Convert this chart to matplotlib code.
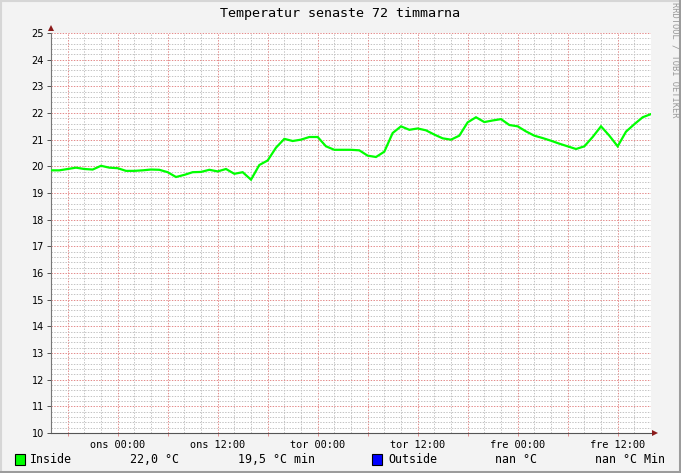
import matplotlib
matplotlib.use('Agg')
import matplotlib.pyplot as plt
from matplotlib.lines import Line2D
from matplotlib.patches import Rectangle

W, H = 681, 473

# ---- data -------------------------------------------------------------
title = 'Temperatur senaste 72 timmarna'
# hours since tis 16:00
hours = list(range(73))
inside = [19.85, 19.85, 19.90, 19.95, 19.90, 19.88, 20.02, 19.95, 19.93, 19.83,
          19.83, 19.85, 19.88, 19.87, 19.78, 19.60, 19.68, 19.78, 19.79, 19.87,
          19.81, 19.90, 19.72, 19.78, 19.50, 20.05, 20.22, 20.70, 21.03, 20.95,
          21.00, 21.10, 21.10, 20.75, 20.62, 20.62, 20.62, 20.60, 20.40, 20.35,
          20.55, 21.25, 21.50, 21.37, 21.42, 21.35, 21.19, 21.05, 21.00, 21.15,
          21.65, 21.84, 21.66, 21.72, 21.77, 21.55, 21.50, 21.31, 21.15, 21.06,
          20.96, 20.85, 20.75, 20.65, 20.75, 21.10, 21.50, 21.15, 20.75, 21.30,
          21.58, 21.84, 21.96]
label_hours = [8, 20, 32, 44, 56, 68]
label_text = ['ons 00:00', 'ons 12:00', 'tor 00:00', 'tor 12:00', 'fre 00:00', 'fre 12:00']
major_x = [2, 8, 14, 20, 26, 32, 38, 44, 50, 56, 62, 68]
minor_x = list(range(0, 73, 2))
y_major = list(range(10, 26))
y_minor = [10 + i * 0.2 for i in range(76)]
series_names = ['Inside', 'Outside']
series_colors = ['#00FF00', '#0000FF']

# ---- figure -----------------------------------------------------------
MONO = 'DejaVu Sans Mono'
fig = plt.figure(figsize=(W / 100, H / 100), dpi=100, facecolor='#F3F3F3')


def fx(x):
    return x / W


def fy(y):
    return 1 - y / H


ax = fig.add_axes([fx(51), 40 / H, 600 / W, 400 / H])
ax.set_facecolor('white')
ax.set_xlim(0, 72)
ax.set_ylim(10, 25)

ax.set_xticks(major_x)
ax.set_xticklabels([label_text[label_hours.index(h)] if h in label_hours else '' for h in major_x])
ax.set_xticks(minor_x, minor=True)
ax.set_yticks(y_major)
ax.set_yticks(y_minor, minor=True)

dot = (0, (1.4, 1.4))
ax.grid(which='minor', color='#C4C4C4', linestyle=dot, linewidth=0.72)
ax.grid(which='major', color='#E48C8C', linestyle=dot, linewidth=0.72)
ax.set_axisbelow(True)

ax.tick_params(axis='y', which='major', length=3, width=0.72, color='#555555',
               labelsize=7, pad=2, labelcolor='black')
ax.tick_params(axis='x', which='major', length=2, width=0.72, color='#E09090',
               labelsize=7.4, pad=3, labelcolor='black')
ax.tick_params(which='minor', length=0)
for lab in ax.get_xticklabels():
    lab.set_fontfamily(MONO)
for lab in ax.get_yticklabels():
    lab.set_fontfamily('DejaVu Sans')

for s in ['top', 'right']:
    ax.spines[s].set_visible(False)
ax.spines['left'].set_color('#777777')
ax.spines['bottom'].set_color('#555555')
ax.spines['left'].set_linewidth(0.8)
ax.spines['bottom'].set_linewidth(0.8)

ax.plot(hours, inside, color=series_colors[0], linewidth=1.6, solid_joinstyle='miter', zorder=3)

# axis arrows
ax.plot([0], [1.012], transform=ax.transAxes, marker='^', color='#8B1A1A',
        markersize=4.5, clip_on=False, markeredgewidth=0)
ax.plot([1.007], [0], transform=ax.transAxes, marker='>', color='#8B1A1A',
        markersize=4.5, clip_on=False, markeredgewidth=0)

# title and credit
fig.text(0.5, fy(13), title, ha='center', va='center', fontsize=9.6,
         family=MONO, color='black')
fig.text(fx(675), fy(60), 'RRDTOOL / TOBI OETIKER', rotation=270, ha='center',
         va='center', fontsize=6.3, family=MONO, color='#999999')

# legend
ly = 459
fig.patches.append(Rectangle((fx(15), fy(465)), 10 / W, 11 / H, transform=fig.transFigure,
                             facecolor=series_colors[0], edgecolor='black', linewidth=0.8))
fig.patches.append(Rectangle((fx(372), fy(465)), 10 / W, 11 / H, transform=fig.transFigure,
                             facecolor=series_colors[1], edgecolor='black', linewidth=0.8))
lfs = 8.4
last_txt = f"{inside[-1]:.1f}".replace('.', ',') + ' °C'
min_txt = f"{min(inside):.1f}".replace('.', ',') + ' °C min'
fig.text(fx(30), fy(ly), series_names[0], ha='left', va='center', fontsize=lfs, family=MONO)
fig.text(fx(130), fy(ly), last_txt, ha='left', va='center', fontsize=lfs, family=MONO)
fig.text(fx(238), fy(ly), min_txt, ha='left', va='center', fontsize=lfs, family=MONO)
fig.text(fx(388), fy(ly), series_names[1], ha='left', va='center', fontsize=lfs, family=MONO)
fig.text(fx(495), fy(ly), 'nan °C', ha='left', va='center', fontsize=lfs, family=MONO)
fig.text(fx(595), fy(ly), 'nan °C Min', ha='left', va='center', fontsize=lfs, family=MONO)

# frame shading
fig.lines.append(Line2D([0, 1], [1 - 1 / H, 1 - 1 / H], transform=fig.transFigure,
                        color='#D6D6D6', linewidth=1.5))
fig.lines.append(Line2D([1 / W, 1 / W], [0, 1], transform=fig.transFigure,
                        color='#D6D6D6', linewidth=1.5))
fig.lines.append(Line2D([0, 1], [1.5 / H, 1.5 / H], transform=fig.transFigure,
                        color='#9C9C9C', linewidth=2.2))
fig.lines.append(Line2D([1 - 1.5 / W, 1 - 1.5 / W], [0, 1], transform=fig.transFigure,
                        color='#9C9C9C', linewidth=2.2))

fig.savefig('out.png', dpi=100, facecolor=fig.get_facecolor())
